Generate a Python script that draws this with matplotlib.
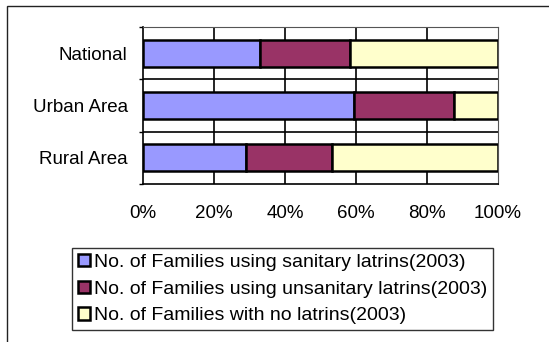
import matplotlib.pyplot as plt
from matplotlib.patches import Rectangle

plt.rcParams['font.family'] = ['Liberation Sans', 'DejaVu Sans']

categories = ['Rural Area', 'Urban Area', 'National']
sanitary = [29.0, 59.5, 32.9]
unsanitary = [24.3, 28.0, 25.4]
no_latrin = [46.7, 12.5, 41.7]
labels = ['No. of Families using sanitary latrins(2003)',
          'No. of Families using unsanitary latrins(2003)',
          'No. of Families with no latrins(2003)']
colors = ['#9999FF', '#993366', '#FFFFCC']
xticks = [0, 20, 40, 60, 80, 100]

fig = plt.figure(figsize=(5.49, 3.42), dpi=100)
# chart area border (runs off the right and bottom edges)
border = Rectangle((7 / 549, -0.1), 1.2, 1 - 6 / 342 + 0.1,
                   transform=fig.transFigure, facecolor='none',
                   edgecolor='#222222', linewidth=1.0, zorder=-1)
fig.add_artist(border)

ax = fig.add_axes([143 / 549, 1 - 184 / 342, 355 / 549, 157 / 342])
ax.set_xlim(0, 100)
ax.set_ylim(-0.5, 2.5)

y = range(len(categories))
left = [0, 0, 0]
for vals, lab, col in zip([sanitary, unsanitary, no_latrin], labels, colors):
    ax.barh(y, vals, left=left, height=0.51, color=col, edgecolor='black',
            linewidth=1.8, label=lab, zorder=3)
    left = [a + b for a, b in zip(left, vals)]

# grid: vertical at the x ticks, horizontal between categories
for t in xticks[1:-1]:
    ax.axvline(t, color='black', linewidth=1.2, zorder=2)
for b in [0.5, 1.5]:
    ax.axhline(b, color='black', linewidth=1.2, zorder=2)

ax.set_xticks(xticks)
ax.set_xticklabels([f'{t}%' for t in xticks], fontsize=13.5)
ax.set_yticks(list(y))
ax.set_yticklabels(categories, fontsize=13.5)
ax.set_yticks([-0.5, 0.5, 1.5, 2.5], minor=True)
ax.tick_params(axis='x', length=0, pad=15)
ax.tick_params(axis='y', which='major', length=0, pad=11)
ax.tick_params(axis='y', which='minor', length=3, width=1, direction='out')
for s in ['top', 'right']:
    ax.spines[s].set_color('#555555')
for s in ['left', 'bottom']:
    ax.spines[s].set_linewidth(1.2)

h, l = ax.get_legend_handles_labels()
leg = fig.legend(h, l, loc='upper left', bbox_to_anchor=(72 / 549, 1 - 248 / 342),
                 fontsize=14, frameon=True, fancybox=False, edgecolor='black',
                 handlelength=0.6, handleheight=0.6, handletextpad=0.25,
                 labelspacing=0.5, borderpad=0.3, borderaxespad=0)
leg.get_frame().set_linewidth(1)

fig.savefig('out.png', dpi=100)
